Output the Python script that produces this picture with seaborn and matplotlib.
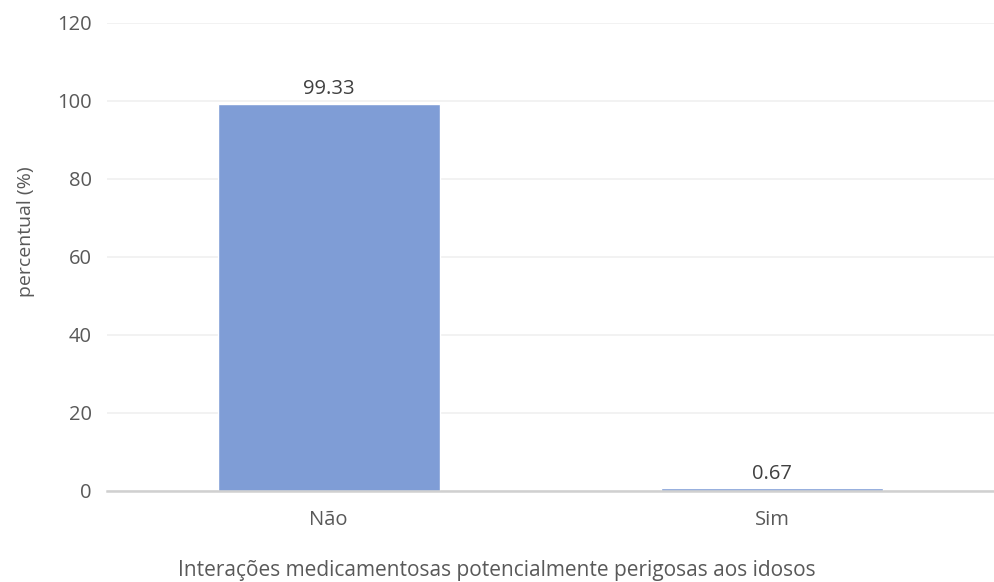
import pandas as pd
import seaborn as sns
import matplotlib.pyplot as plt

categorias = ["Não", "Sim"]
percentuais = [99.33, 0.67]
yticks = [0, 20, 40, 60, 80, 100, 120]

df = pd.DataFrame({"categoria": categorias, "percentual": percentuais})

sns.set_style("white")
plt.rcParams['font.family'] = ['Open Sans', 'DejaVu Sans']
texto = "#595959"

fig = plt.figure(figsize=(9.94, 5.82), dpi=100)
ax = fig.add_axes([0.1076, 0.1564, 0.8924, 0.8041])

sns.barplot(data=df, x="categoria", y="percentual", color="#7f9dd6",
            saturation=1, width=0.5, ax=ax, zorder=3)

for i, v in enumerate(percentuais):
    ax.annotate(f"{v:.2f}", (i, v), xytext=(0, 3), textcoords="offset points",
                ha="center", va="bottom", fontsize=14.5, color="#404040")

ax.set_ylim(0, 120)
ax.set_xlim(-0.5, 1.5)
ax.set_yticks(yticks)
ax.grid(axis="y", color="#f0f0f0", linewidth=1.2, zorder=0)
for s in ["top", "right", "left"]:
    ax.spines[s].set_visible(False)
ax.spines["bottom"].set_color("#d0d0d0")
ax.spines["bottom"].set_linewidth(1.8)
ax.spines["bottom"].set_zorder(4)
ax.tick_params(axis="both", length=0, labelsize=14.5, labelcolor=texto)
ax.tick_params(axis="y", pad=11)
ax.tick_params(axis="x", pad=14)
ax.set_xlabel("Interações medicamentosas potencialmente perigosas aos idosos",
              fontsize=15, color=texto)
ax.set_ylabel("percentual (%)", fontsize=14, color=texto)
# titles sit centred on the figure, not the plot area
ax.xaxis.set_label_coords(0.44, -0.147)
ax.yaxis.set_label_coords(-0.081, 0.553)

fig.savefig("out.png", dpi=100)
